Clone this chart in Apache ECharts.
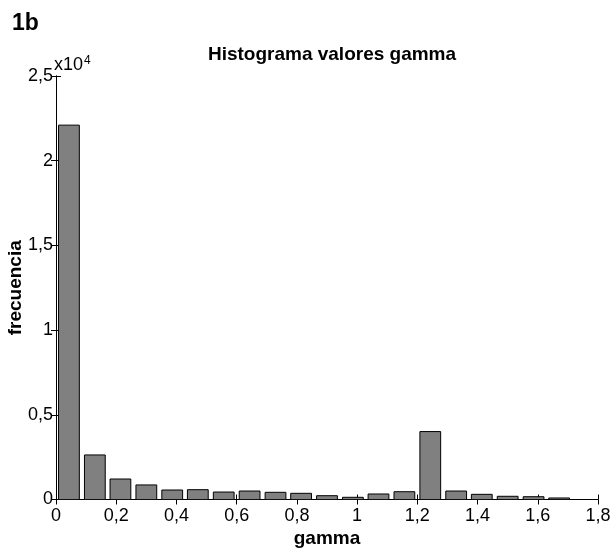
<!DOCTYPE html>
<html>
<head>
<meta charset="utf-8">
<script src="https://cdn.jsdelivr.net/npm/echarts@6/dist/echarts.min.js"></script>
<style>
html,body{margin:0;padding:0;background:#fff;}
#chart{width:612px;height:551px;}
</style>
</head>
<body>
<div id="chart"></div>
<script>
// Bin centres (gamma) and counts (frecuencia)
const binCenters = [0.043, 0.129, 0.214, 0.300, 0.386, 0.471, 0.557, 0.643, 0.729, 0.814,
                    0.900, 0.986, 1.071, 1.157, 1.243, 1.329, 1.414, 1.500, 1.586, 1.671];
const counts = [22100, 2630, 1210, 860, 560, 580, 440, 500, 425, 365,
                225, 130, 325, 460, 4010, 500, 305, 190, 165, 90];
const xTicks = [0, 0.2, 0.4, 0.6, 0.8, 1.0, 1.2, 1.4, 1.6, 1.8];
const yTicks = [0, 5000, 10000, 15000, 20000, 25000];

const BAR_W = 0.069; // bar width in gamma units
const FONT = '"Liberation Sans", Arial, sans-serif';
const fmtComma = v => String(Math.round(v * 10) / 10).replace('.', ',');

const chart = echarts.init(document.getElementById('chart'), null, {renderer: 'canvas'});

const seriesData = binCenters.map((c, i) => [c, counts[i]]);

const commonAxisLine = {show: true, lineStyle: {color: '#000', width: 1}};
const commonTick = {show: true, inside: true, length: 5, lineStyle: {color: '#000', width: 1}};

chart.setOption({
  animation: false,
  backgroundColor: '#fff',
  textStyle: {fontFamily: FONT},
  title: {
    text: 'Histograma valores gamma',
    left: 327, top: 40, textAlign: 'center',
    textStyle: {fontFamily: FONT, fontSize: 19, fontWeight: 'bold', color: '#000'}
  },
  grid: {left: 56, top: 76, width: 542, height: 423.5, containLabel: false, outerBoundsMode: 'none'},
  xAxis: [{
    type: 'value', min: 0, max: 1.8, interval: 0.2, position: 'bottom',
    name: 'gamma', nameLocation: 'middle', nameGap: 30, nameMoveOverlap: false,
    nameTextStyle: {fontFamily: FONT, fontSize: 19, fontWeight: 'bold', color: '#000'},
    axisLine: commonAxisLine, axisTick: commonTick,
    axisLabel: {show: true, margin: 8, fontFamily: FONT, fontSize: 18, color: '#000',
      formatter: v => xTicks.some(t => Math.abs(t - v) < 1e-9) ? fmtComma(v) : ''},
    splitLine: {show: false}
  }, {
    type: 'value', min: 0, max: 1.8, interval: 0.2, position: 'top',
    axisLine: commonAxisLine, axisTick: commonTick,
    axisLabel: {show: false}, splitLine: {show: false}
  }],
  yAxis: [{
    type: 'value', min: 0, max: 25000, interval: 5000, position: 'left',
    name: 'frecuencia', nameLocation: 'middle', nameGap: 31, nameRotate: 90, nameMoveOverlap: false,
    nameTextStyle: {fontFamily: FONT, fontSize: 19, fontWeight: 'bold', color: '#000'},
    axisLine: commonAxisLine, axisTick: commonTick,
    axisLabel: {show: true, margin: 3, fontFamily: FONT, fontSize: 18, color: '#000',
      formatter: v => yTicks.includes(v) ? fmtComma(v / 10000) : ''},
    splitLine: {show: false}
  }, {
    type: 'value', min: 0, max: 25000, interval: 5000, position: 'right',
    axisLine: commonAxisLine, axisTick: commonTick,
    axisLabel: {show: false}, splitLine: {show: false}
  }],
  graphic: [
    {type: 'text', left: 12, top: 12,
     style: {text: '1b', font: 'bold 23px ' + FONT, fill: '#000'}},
    {type: 'text', left: 54, top: 55,
     style: {text: '{b|x10}{s|4}', fill: '#000',
       rich: {b: {fontFamily: FONT, fontSize: 18, verticalAlign: 'bottom', lineHeight: 19},
              s: {fontFamily: FONT, fontSize: 12, verticalAlign: 'top', lineHeight: 19, padding: [0,0,8,1]}}}}
  ],
  series: [{
    type: 'custom',
    xAxisIndex: 0, yAxisIndex: 0,
    data: seriesData,
    encode: {x: 0, y: 1},
    clip: true,
    renderItem: function (params, api) {
      const x = api.value(0), y = api.value(1);
      const p0 = api.coord([x - BAR_W / 2, y]);
      const p1 = api.coord([x + BAR_W / 2, 0]);
      return {
        type: 'rect',
        shape: {x: p0[0], y: p0[1], width: p1[0] - p0[0], height: p1[1] - p0[1]},
        style: {fill: '#808080', stroke: '#000', lineWidth: 1}
      };
    }
  }]
});
</script>
</body>
</html>
